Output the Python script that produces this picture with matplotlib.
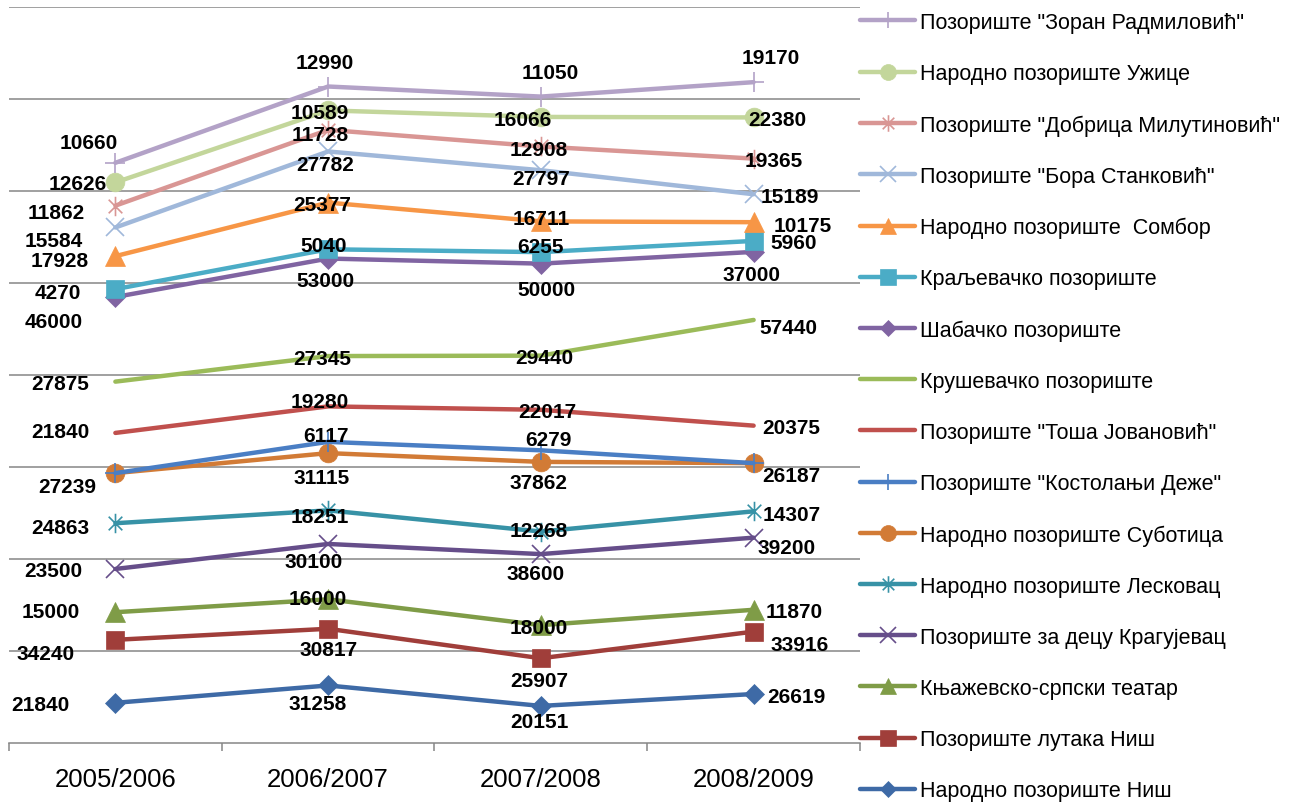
import matplotlib
matplotlib.use('Agg')
import matplotlib.pyplot as plt
import numpy as np
from matplotlib.path import Path

plt.rcParams['font.family'] = ['Liberation Sans', 'DejaVu Sans']

categories = ['2005/2006', '2006/2007', '2007/2008', '2008/2009']

# series, bottom of the stack first
names = [
    'Народно позориште Ниш',
    'Позориште лутака Ниш',
    'Књажевско-српски театар',
    'Позориште за децу Крагујевац',
    'Народно позориште Лесковац',
    'Народно позориште Суботица',
    'Позориште "Костолањи Деже"',
    'Позориште "Тоша Јовановић"',
    'Крушевачко позориште',
    'Шабачко позориште',
    'Краљевачко позориште',
    'Народно позориште  Сомбор',
    'Позориште "Бора Станковић"',
    'Позориште "Добрица Милутиновић"',
    'Народно позориште Ужице',
    'Позориште "Зоран Радмиловић"',
]
np_nis = [21840, 31258, 20151, 26619]
pl_nis = [34240, 30817, 25907, 33916]
ks_teatar = [15000, 16000, 18000, 11870]
pd_kragujevac = [23500, 30100, 38600, 39200]
np_leskovac = [24863, 18251, 12268, 14307]
np_subotica = [27239, 31115, 37862, 26187]
kostolanji = [np.nan, 6117, 6279, np.nan]
tosa = [21840, 19280, 22017, 20375]
krusevac = [27875, 27345, 29440, 57440]
sabac = [46000, 53000, 50000, 37000]
kraljevo = [4270, 5040, 6255, 5960]
sombor = [17928, 25377, 16711, 10175]
bora = [15584, 27782, 27797, 15189]
dobrica = [11862, 11728, 12908, 19365]
uzice = [12626, 10589, 16066, 22380]
zoran = [10660, 12990, 11050, 19170]

values = [np_nis, pl_nis, ks_teatar, pd_kragujevac, np_leskovac, np_subotica,
          kostolanji, tosa, krusevac, sabac, kraljevo, sombor, bora, dobrica,
          uzice, zoran]

colors = ['#3E6AA6', '#A03E3A', '#7F9C47', '#664E8A', '#3792A6', '#D27B36',
          '#4A7EC4', '#C0504D', '#9BBB59', '#8064A2', '#4BACC6', '#F79646',
          '#A0B8DA', '#D99694', '#C3D69B', '#B3A2C7']

ast = Path([(0, -1), (0, 1), (-0.7, -0.7), (0.7, 0.7), (-0.7, 0.7), (0.7, -0.7)],
           [Path.MOVETO, Path.LINETO, Path.MOVETO, Path.LINETO, Path.MOVETO, Path.LINETO])
mk = ['D', 's', '^', 'x', ast, 'o', '+', None, None,
      'D', 's', '^', 'x', ast, 'o', '+']
msz = {'D': 10, 's': 13.5, '^': 14, 'x': 13.5, 'o': 13.5, '+': 14}

# label offsets in pixels (dx right, dy down) from each point
offsets = [
    [(-75, 0), (-10, 16), (-1, 14), (43, 0)],
    [(-70, 12), (0, 19), (-2, 20), (46, 11)],
    [(-65, -3), (-10, -3), (-2, 0), (41, 0)],
    [(-62, 0), (-14, 16), (-5, 17), (33, 8)],
    [(-55, 2), (-8, 4), (-2, -3), (38, 1)],
    [(-48, 11), (-6, 22), (-2, 19), (38, 10)],
    [(0, 0), (-2, -8), (8, -13), (0, 0)],
    [(-55, -3), (-8, -7), (6, 0), (38, 0)],
    [(-55, 0), (-6, 0), (3, 0), (35, 6)],
    [(-62, 23), (-3, 20), (6, 24), (-2, 21)],
    [(-58, 1), (-4, -6), (0, -8), (40, 0)],
    [(-56, 2), (-6, 0), (0, -5), (49, 1)],
    [(-62, 11), (-3, 11), (0, 6), (36, 0)],
    [(-59, 5), (-8, 3), (-2, 1), (20, 0)],
    [(-38, -1), (-8, 0), (-18, 1), (24, 0)],
    [(-27, -22), (-3, -26), (9, -26), (17, -27)],
]

W, H = 1293, 804
fig = plt.figure(figsize=(W / 100, H / 100), dpi=100)
ax = fig.add_axes([9 / W, 1 - 744 / H, (860 - 9) / W, (744 - 8) / H])

x = np.arange(len(categories))
cum = np.zeros(len(categories))
lines = []
for i, (name, vals) in enumerate(zip(names, values)):
    v = np.nan_to_num(np.array(vals, dtype=float))
    cum = cum + v
    m = mk[i]
    kw = dict(color=colors[i], lw=3.2, solid_capstyle='round', zorder=2 + i * 0.01)
    if m is None:
        kw.update(marker=None)
    elif m is ast:
        kw.update(marker=m, markersize=14, markerfacecolor='none',
                  markeredgecolor=colors[i], markeredgewidth=1.2)
    elif m in ('x', '+'):
        kw.update(marker=m, markersize=msz[m], markeredgecolor=colors[i],
                  markeredgewidth=1.2)
    else:
        kw.update(marker=m, markersize=msz[m], markerfacecolor=colors[i],
                  markeredgecolor=colors[i], markeredgewidth=0.5)
    ln, = ax.plot(x, cum.copy(), label=name, **kw)
    lines.append(ln)
    for j in range(len(categories)):
        if np.isnan(vals[j]):
            continue
        dx, dy = offsets[i][j]
        ax.annotate(f'{int(vals[j])}', (x[j], cum[j]), xytext=(dx, -(dy + 7.5)),
                    textcoords='offset pixels', ha='center', va='baseline',
                    fontsize=15, fontweight='bold', color='black', zorder=10,
                    annotation_clip=False)

ax.set_xlim(-0.5, 3.5)
ax.set_ylim(0, 400000)
ax.set_yticks(np.arange(50000, 400001, 50000))
ax.yaxis.grid(True, color='#868686', lw=1.1)
ax.set_axisbelow(True)
ax.tick_params(axis='y', length=0, labelleft=False)
for s in ['left', 'right', 'top']:
    ax.spines[s].set_visible(False)
ax.spines['bottom'].set_color('#868686')
ax.spines['bottom'].set_linewidth(1.1)
ax.set_xticks(x)
ax.set_xticklabels(categories, fontsize=18.5)
ax.set_xticks(np.arange(-0.5, 3.6, 1), minor=True)
ax.tick_params(axis='x', which='major', length=0, pad=17)
ax.tick_params(axis='x', which='minor', length=6, width=1.1, color='#868686')

leg = fig.legend(lines[::-1], names[::-1], loc='upper left',
                 bbox_to_anchor=(860 / W, 1 - 13 / H), frameon=False, fontsize=15.5,
                 labelspacing=1.40, handlelength=2.56, handletextpad=0.23,
                 borderpad=0, borderaxespad=0, markerscale=0.85)

fig.savefig('out.png', dpi=100)
